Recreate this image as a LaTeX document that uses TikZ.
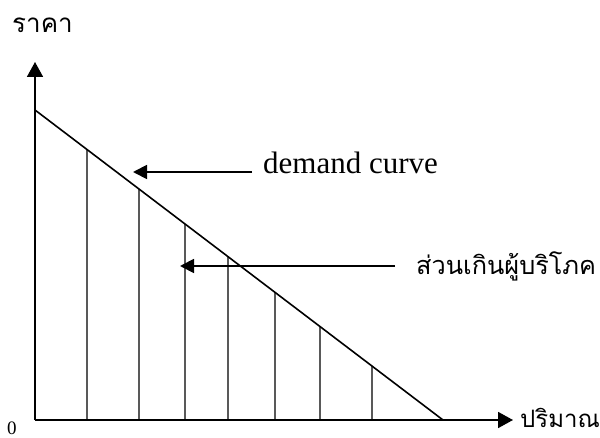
\documentclass[tikz,border=0pt]{standalone}
\usepackage{fontspec}
\setmainfont{Liberation Serif}
\newfontfamily\thaifont[Script=Thai]{Loma}
\usetikzlibrary{arrows.meta,calc}
\tikzset{
  axis/.style={line width=1.8pt,-{Triangle[length=15pt,width=16pt]}},
  demand/.style={line width=1.6pt},
  vline/.style={line width=1.4pt},
  pointer/.style={line width=1.8pt,-{Triangle[length=14pt,width=14pt]}},
  lbl/.style={inner sep=0pt,font=\fontsize{31}{36}\selectfont},
  thlbl/.style={inner sep=0pt,font=\thaifont\fontsize{24}{30}\selectfont},
}
\begin{document}
\begin{tikzpicture}[x=1pt,y=-1pt]
\useasboundingbox (0,0) rectangle (600,438);
% axes
\coordinate (O) at (35,420);
\coordinate (ytop) at (35,62);
\coordinate (xend) at (513,420);
\draw[axis] (O) -- (ytop);
\draw[axis] (O) -- (xend);
% demand line
\coordinate (D1) at (35,110);
\coordinate (D2) at (443,420);
\draw[demand] (D1) -- (D2);
% vertical lines
\foreach \x [count=\i] in {87,139,185,228,275,320,372}{
  \coordinate (b\i) at (\x,420);
  \coordinate (t\i) at ($(D1)!{(\x-35)/408}!(D2)$);
  \draw[vline] (b\i) -- (t\i);
}
% labels
\node[thlbl,anchor=base west,font=\thaifont\fontsize{26}{30}\selectfont] (price) at (12,33) {ราคา};
\node[thlbl,anchor=base west] (qty) at (520,428) {ปริมาณ};
\node[lbl,anchor=base west,font=\fontsize{19}{22}\selectfont] (zero) at (7,434) {0};
\node[lbl,anchor=base west] (dc) at (263,174) {demand curve};
\node[thlbl,anchor=base west,font=\thaifont\fontsize{25.3}{30}\selectfont] (cs) at (416,275) {ส่วนเกินผู้บริโภค};
% pointers
\coordinate (dcTail) at (252,172);
\coordinate (dcTip) at (133,172);
\draw[pointer] (dcTail) -- (dcTip);
\coordinate (csTail) at (395,266);
\coordinate (csTip) at (180,266);
\draw[pointer] (csTail) -- (csTip);
\end{tikzpicture}
\end{document}
